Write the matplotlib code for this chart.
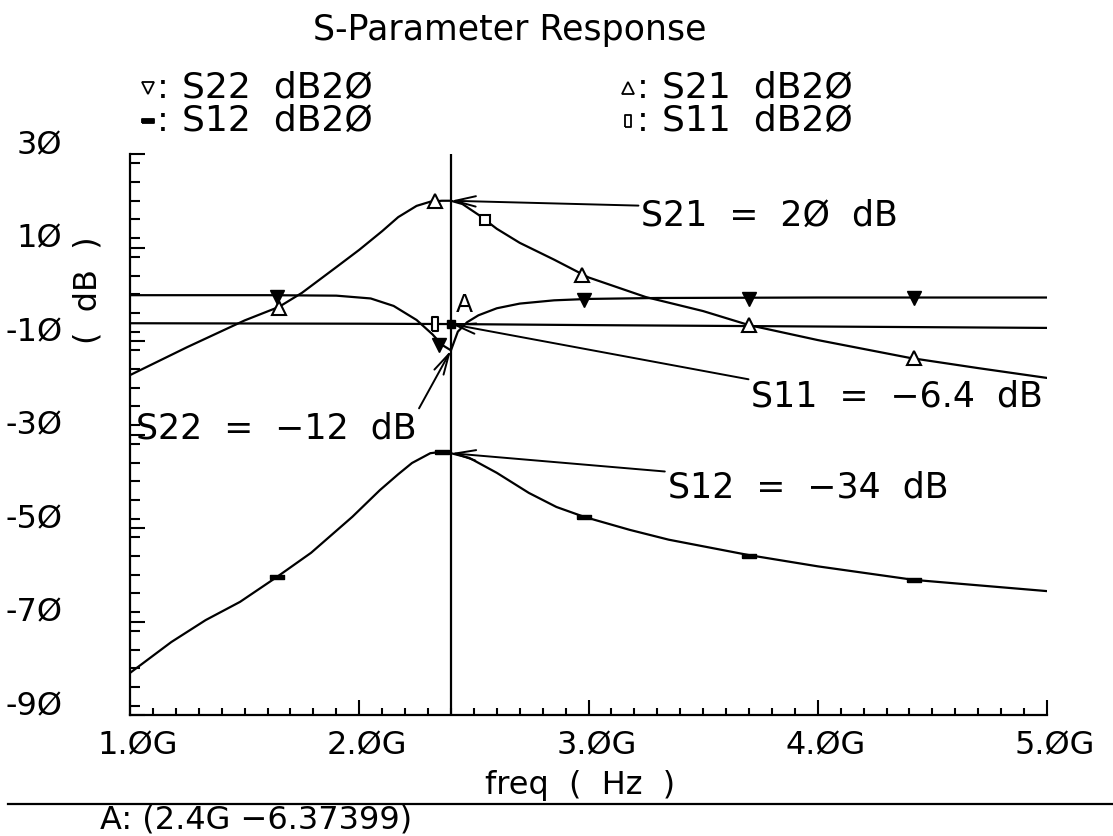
import matplotlib
matplotlib.use("Agg")
import matplotlib.pyplot as plt
from matplotlib.lines import Line2D
from matplotlib.ticker import MultipleLocator, FixedLocator

plt.rcParams['font.family'] = ['DejaVu Sans']

# traces (freq in GHz, magnitude in dB)
s21_f = [1.0, 1.25, 1.5, 1.65, 1.75, 1.9, 2.0, 2.1, 2.17, 2.25, 2.31, 2.36, 2.4, 2.45,
         2.52, 2.6, 2.7, 2.85, 3.0, 3.25, 3.5, 3.7, 4.0, 4.4, 4.7, 5.0]
s21_db = [-17.3, -11.3, -5.6, -2.7, 0.3, 5.8, 9.5, 13.5, 16.5, 18.9, 19.8, 20.0, 20.0, 19.3,
          17.0, 14.0, 11.0, 7.4, 3.6, -0.6, -3.6, -6.6, -9.8, -13.6, -15.8, -17.9]

s12_f = [1.0, 1.18, 1.33, 1.48, 1.64, 1.79, 1.97, 2.09, 2.17, 2.23, 2.31, 2.36, 2.4,
         2.48, 2.6, 2.74, 2.86, 2.98, 3.18, 3.35, 3.7, 4.0, 4.42, 5.0]
s12_db = [-81.0, -74.4, -69.7, -65.8, -60.5, -55.3, -47.6, -41.9, -38.5, -36.1, -34.0,
          -33.7, -34.0, -35.0, -38.2, -42.5, -45.5, -47.6, -50.4, -52.5, -55.8, -58.2,
          -61.1, -63.5]

s22_f = [1.0, 1.6, 1.9, 2.05, 2.15, 2.25, 2.32, 2.36, 2.4, 2.43, 2.47, 2.52, 2.6,
         2.7, 2.85, 3.0, 3.3, 4.0, 5.0]
s22_db = [-0.2, -0.2, -0.3, -0.9, -2.5, -5.5, -8.6, -10.8, -12.0, -8.0, -6.0, -4.5,
          -3.0, -2.0, -1.3, -1.0, -0.8, -0.7, -0.7]

s11_f = [1.0, 2.0, 2.4, 3.0, 4.0, 5.0]
s11_db = [-6.2, -6.3, -6.37399, -6.6, -6.9, -7.2]

# symbol positions along each trace
s21_mk_f = [1.65, 2.33, 2.97, 3.70, 4.42]
s21_mk_db = [-3.0, 19.9, 4.1, -6.6, -13.6]
s21_sq_f = [2.55]
s21_sq_db = [15.9]
s22_mk_f = [1.64, 2.35, 2.98, 3.70, 4.42]
s22_mk_db = [-0.6, -10.9, -1.2, -1.0, -0.8]
s12_mk_f = [1.64, 2.36, 2.98, 3.70, 4.42]
s12_mk_db = [-60.5, -33.8, -47.6, -56.0, -61.1]
s11_mk_f = [2.33]
s11_mk_db = [-6.3]

marker_a = (2.4, -6.37399)

xticks = [1.0, 2.0, 3.0, 4.0, 5.0]
xtick_labels = ['1.ØG', '2.ØG', '3.ØG', '4.ØG', '5.ØG']
yticks = [30, 10, -10, -30, -50, -70, -90]
ytick_labels = ['3Ø', '1Ø', '-1Ø', '-3Ø', '-5Ø', '-7Ø', '-9Ø']

bar_mk = [(-1, -0.35), (1, -0.35), (1, 0.35), (-1, 0.35), (-1, -0.35)]
rect_mk = [(-0.5, -1), (0.5, -1), (0.5, 1), (-0.5, 1), (-0.5, -1)]

fig = plt.figure(figsize=(11.13, 8.36), dpi=100)
ax = fig.add_axes([130 / 1113, 1 - 715 / 836, 917 / 1113, 561 / 836])

lw = 1.6
ax.plot(s21_f, s21_db, color='k', lw=lw)
ax.plot(s12_f, s12_db, color='k', lw=lw)
ax.plot(s22_f, s22_db, color='k', lw=lw)
ax.plot(s11_f, s11_db, color='k', lw=lw)

ax.plot(s21_mk_f, s21_mk_db, ls='none', marker='^', ms=10, mfc='white', mec='k', mew=1.5)
ax.plot(s21_sq_f, s21_sq_db, ls='none', marker='s', ms=7, mfc='white', mec='k', mew=1.5)
ax.plot(s22_mk_f, s22_mk_db, ls='none', marker='v', ms=10, mfc='k', mec='k')
ax.plot(s12_mk_f, s12_mk_db, ls='none', marker=bar_mk, ms=10, mfc='k', mec='k')
ax.plot(s11_mk_f, s11_mk_db, ls='none', marker=rect_mk, ms=10, mfc='white', mec='k', mew=1.5)
ax.plot([marker_a[0]], [marker_a[1]], ls='none', marker='s', ms=6, color='k')
ax.text(2.46, -2.3, 'A', fontsize=18, ha='center', va='center')

# cursor
ax.axvline(2.4, color='k', lw=1.6)

ax.set_xlim(1.0, 5.0)
ax.set_ylim(-90, 30)
ax.xaxis.set_major_locator(FixedLocator(xticks))
ax.xaxis.set_minor_locator(MultipleLocator(0.1))
ax.yaxis.set_major_locator(FixedLocator(yticks))
ax.yaxis.set_minor_locator(MultipleLocator(4))
ax.tick_params(which='both', direction='in', width=1.5, labelbottom=False, labelleft=False)
ax.tick_params(axis='y', which='major', length=11)
ax.tick_params(axis='y', which='minor', length=7)
ax.tick_params(axis='x', which='major', length=11)
ax.tick_params(axis='x', which='minor', length=5)
for side in ('top', 'right'):
    ax.spines[side].set_visible(False)
for side in ('left', 'bottom'):
    ax.spines[side].set_linewidth(1.6)

for v, lab in zip(yticks, ytick_labels):
    ax.text(-0.074, v, lab, transform=ax.get_yaxis_transform(), fontsize=23,
            ha='right', va='baseline')
for f, lab in zip(xticks, xtick_labels):
    ax.text(f + 0.035, -0.027, lab, transform=ax.get_xaxis_transform(), fontsize=23,
            ha='center', va='top')

ax.text(0.491, -0.125, 'freq  (  Hz  )', transform=ax.transAxes, fontsize=23,
        ha='center', va='center')
ax.text(-0.0458, 0.7576, '(  dB  )', transform=ax.transAxes, fontsize=23,
        ha='center', va='center', rotation=90)

# value callouts at the cursor
arrow = dict(arrowstyle='->, head_length=0.6, head_width=0.15', color='k', lw=1.4,
             shrinkA=0, shrinkB=0)
ax.annotate('S21  =  2Ø  dB', xy=(2.4, 20.0), xytext=(3.23, 20.4), fontsize=25,
            ha='left', va='top', arrowprops=dict(arrow, relpos=(0, 0.8)))
ax.annotate('S11  =  −6.4  dB', xy=(2.4, -6.37399), xytext=(3.71, -18.3), fontsize=25,
            ha='left', va='top', arrowprops=dict(arrow, relpos=(0, 1.0)))
ax.annotate('S22  =  −12  dB', xy=(2.4, -12.0), xytext=(1.026, -25.0), fontsize=25,
            ha='left', va='top', arrowprops=dict(arrow, relpos=(1.0, 0.95)))
ax.annotate('S12  =  −34  dB', xy=(2.4, -34.0), xytext=(3.345, -37.6), fontsize=25,
            ha='left', va='top', arrowprops=dict(arrow, relpos=(0, 0.95)))

# header
fig.text(510 / 1113, 1 - 30 / 836, 'S-Parameter Response', fontsize=25,
         ha='center', va='center')
legend_rows = [
    (148, 88, 'v', 'white', 'S22  dB2Ø'),
    (148, 121, bar_mk, 'k', 'S12  dB2Ø'),
    (628, 88, '^', 'white', 'S21  dB2Ø'),
    (628, 121, rect_mk, 'white', 'S11  dB2Ø'),
]
for px, py, mk, fc, lab in legend_rows:
    fig.add_artist(Line2D([px / 1113], [1 - py / 836], ls='none', marker=mk, ms=8,
                          mfc=fc, mec='k', mew=1.3))
    fig.text((px + 9) / 1113, 1 - py / 836, ':', fontsize=25, ha='left', va='center')
    fig.text((px + 34) / 1113, 1 - py / 836, lab, fontsize=26, ha='left', va='center')

# marker readout
fig.add_artist(Line2D([8 / 1113, 1.0], [1 - 804 / 836] * 2, color='k', lw=1.6))
fig.text(100 / 1113, 1 - 820 / 836, 'A: (2.4G −6.37399)', fontsize=23,
         ha='left', va='center')

fig.savefig('out.png', dpi=100, facecolor='white')
